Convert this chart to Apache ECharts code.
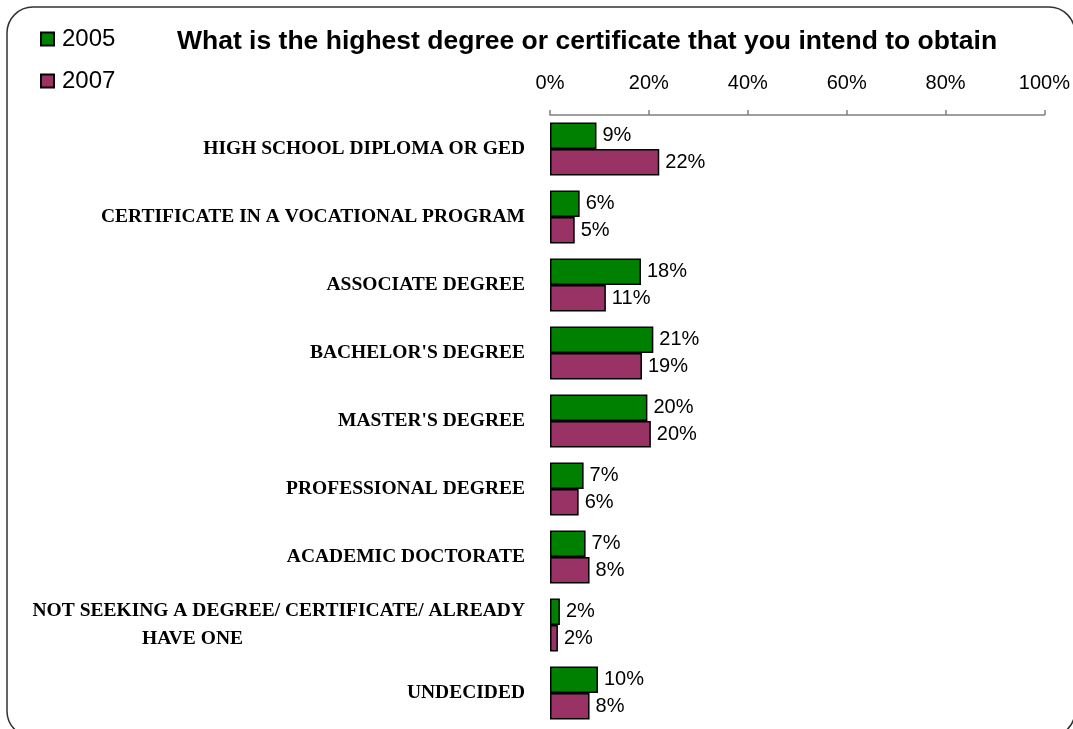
<!DOCTYPE html>
<html>
<head>
<meta charset="UTF-8">
<title>degree chart</title>
<script src="https://cdn.jsdelivr.net/npm/echarts@6/dist/echarts.min.js"></script>
<style>
  html, body { margin: 0; padding: 0; background: #fff; }
  #main { width: 1073px; height: 729px; }
</style>
</head>
<body>
<div id="main"></div>
<script>
var categories = [
  'HIGH SCHOOL DIPLOMA OR GED',
  'CERTIFICATE IN A VOCATIONAL PROGRAM',
  'ASSOCIATE DEGREE',
  "BACHELOR'S DEGREE",
  "MASTER'S DEGREE",
  'PROFESSIONAL DEGREE',
  'ACADEMIC DOCTORATE',
  'NOT SEEKING A DEGREE/ CERTIFICATE/ ALREADY\nHAVE ONE',
  'UNDECIDED'
];
var values2005 = [9.4, 6.0, 18.4, 20.9, 19.7, 6.8, 7.2, 2.0, 9.7];
var values2007 = [22.1, 5.0, 11.3, 18.6, 20.4, 5.8, 8.0, 1.6, 8.0];
var xTicks = [0, 20, 40, 60, 80, 100];

var chartDom = document.getElementById('main');
var myChart = echarts.init(chartDom);

function pct(p) { return Math.round(p.value) + '%'; }

var catFont = { fontFamily: 'Liberation Serif', fontSize: 19.5, fontWeight: 'bold', color: '#000', lineHeight: 28 };

var option = {
  animation: false,
  backgroundColor: '#fff',
  graphic: [{
    type: 'rect',
    shape: { x: 7, y: 7, width: 1068, height: 730, r: 26 },
    style: { fill: 'none', stroke: '#333', lineWidth: 1.5 },
    z: -1
  }],
  title: {
    text: 'What is the highest degree or certificate that you intend to obtain',
    left: 172,
    top: 23,
    textStyle: { fontFamily: 'Liberation Sans', fontSize: 26.5, fontWeight: 'bold', color: '#000' }
  },
  legend: {
    orient: 'vertical',
    left: 35,
    top: 22,
    icon: 'rect',
    itemWidth: 13,
    itemHeight: 13,
    itemGap: 18,
    textStyle: { fontFamily: 'Liberation Sans', fontSize: 24, color: '#000', padding: [0, 0, 0, 3] }
  },
  grid: { left: 550, right: 26, top: 115, bottom: 2, containLabel: false },
  xAxis: {
    type: 'value',
    position: 'top',
    min: xTicks[0],
    max: xTicks[xTicks.length - 1],
    interval: 20,
    axisLine: { show: true, lineStyle: { color: '#808080', width: 1.5 } },
    axisTick: { show: true, length: 5, lineStyle: { color: '#808080', width: 1.5 } },
    splitLine: { show: false },
    axisLabel: { formatter: '{value}%', fontFamily: 'Liberation Sans', fontSize: 20, color: '#000', margin: 22 }
  },
  yAxis: {
    type: 'category',
    data: categories,
    inverse: true,
    axisLine: { show: false },
    axisTick: { show: false },
    axisLabel: {
      margin: 25,
      color: '#000',
      fontFamily: catFont.fontFamily,
      fontSize: catFont.fontSize,
      fontWeight: catFont.fontWeight,
      formatter: function (v) {
        var parts = v.split('\n');
        if (parts.length > 1) {
          return '{a|' + parts[0] + '}\n{b|' + parts[1] + '}';
        }
        return v;
      },
      rich: {
        a: catFont,
        b: Object.assign({}, catFont, { padding: [0, 282, 0, 0] })
      }
    }
  },
  series: [
    {
      name: '2005',
      type: 'bar',
      data: values2005,
      barGap: '0%',
      barCategoryGap: '22%',
      itemStyle: { color: '#008000', borderColor: '#000', borderWidth: 1.5 },
      label: { show: true, position: 'right', distance: 6, formatter: pct, fontFamily: 'Liberation Sans', fontSize: 20, color: '#000' }
    },
    {
      name: '2007',
      type: 'bar',
      data: values2007,
      barGap: '0%',
      barCategoryGap: '22%',
      itemStyle: { color: '#993366', borderColor: '#000', borderWidth: 1.5 },
      label: { show: true, position: 'right', distance: 6, formatter: pct, fontFamily: 'Liberation Sans', fontSize: 20, color: '#000' }
    }
  ]
};

myChart.setOption(option);
</script>
</body>
</html>
